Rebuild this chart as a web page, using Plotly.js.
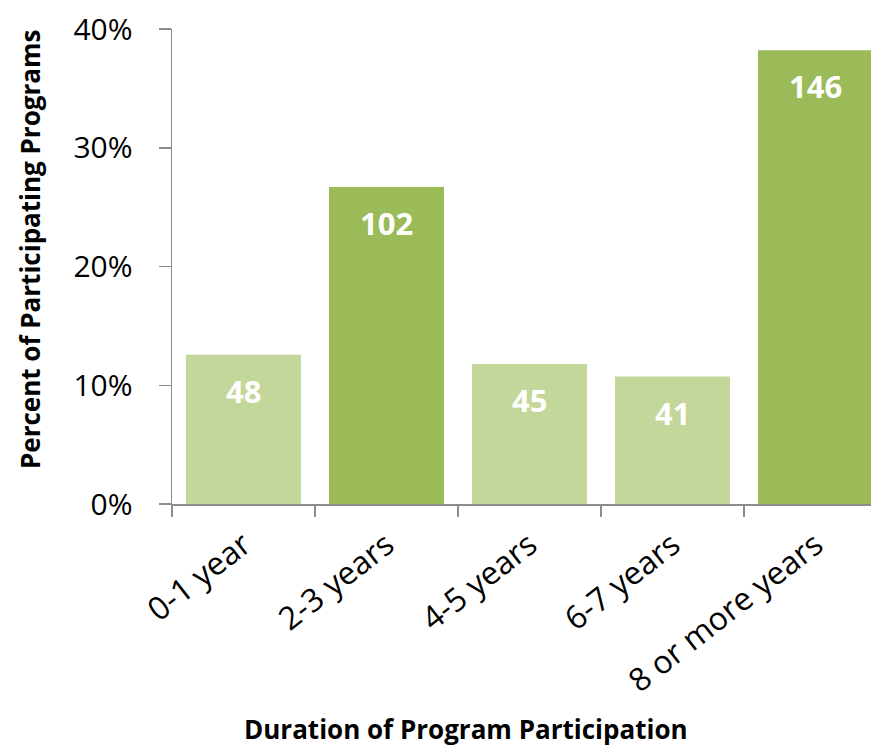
<!DOCTYPE html>
<html>
<head>
<meta charset="utf-8">
<script src="https://cdn.plot.ly/plotly-3.0.1.min.js"></script>
<style>html,body{margin:0;padding:0;background:#fff;overflow:hidden;}</style>
</head>
<body>
<div id="chart" style="width:871px;height:748px;"></div>
<script>
const categories = ["0-1 year", "2-3 years", "4-5 years", "6-7 years", "8 or more years"];
const counts = [48, 102, 45, 41, 146];
const total = counts.reduce((a, b) => a + b, 0);
const percents = counts.map(c => c / total);
const barColors = ["#c4d79b", "#9bbb59", "#c4d79b", "#c4d79b", "#9bbb59"];

const FONT = "Open Sans, Noto Sans, DejaVu Sans, sans-serif";

const trace = {
  type: "bar",
  x: categories,
  y: percents,
  marker: {color: barColors, line: {width: 0}},
  hoverinfo: "skip"
};

const labelAnnotations = categories.map((c, i) => ({
  x: c, y: percents[i], xref: "x", yref: "y",
  text: String(counts[i]), showarrow: false,
  yshift: -36, yanchor: "middle", xanchor: "center",
  font: {family: FONT, size: 31, color: "#ffffff", weight: 700}
}));

const layout = {
  width: 871, height: 748,
  margin: {l: 172, r: 0, t: 29, b: 244},
  paper_bgcolor: "#ffffff", plot_bgcolor: "#ffffff",
  showlegend: false,
  bargap: 0.196,
  xaxis: {
    type: "category",
    range: [-0.5, -0.5 + 699 / 143],
    tickson: "boundaries",
    ticks: "outside", ticklen: 11, tickwidth: 1.5, tickcolor: "#8c8c8c",
    showline: true, linecolor: "#8c8c8c", linewidth: 1.5,
    showgrid: false, zeroline: false,
    tickangle: -38,
    ticklabelstandoff: 8,
    tickfont: {family: FONT, size: 32, color: "#000000"},
    fixedrange: true
  },
  yaxis: {
    range: [0, 0.4],
    dtick: 0.1, tick0: 0,
    tickformat: ".0%",
    ticks: "outside", ticklen: 12, tickwidth: 1.5, tickcolor: "#8c8c8c",
    showline: true, linecolor: "#8c8c8c", linewidth: 1.5,
    showgrid: false, zeroline: false,
    ticklabelstandoff: 20,
    tickfont: {family: FONT, size: 30, color: "#000000"},
    fixedrange: true
  },
  annotations: labelAnnotations.concat([
    {
      xref: "paper", yref: "paper", x: (466 - 172) / 699, y: (504 - 729) / 475,
      xanchor: "center", yanchor: "middle", showarrow: false,
      text: "Duration of Program Participation",
      font: {family: FONT, size: 26, color: "#000000", weight: 700}
    },
    {
      xref: "paper", yref: "paper", x: (30 - 172) / 699, y: (504 - 250) / 475,
      xanchor: "center", yanchor: "middle", showarrow: false, textangle: -90,
      text: "Percent of Participating Programs",
      font: {family: FONT, size: 26, color: "#000000", weight: 700}
    }
  ])
};

Plotly.newPlot("chart", [trace], layout, {displayModeBar: false, staticPlot: true});
</script>
</body>
</html>
